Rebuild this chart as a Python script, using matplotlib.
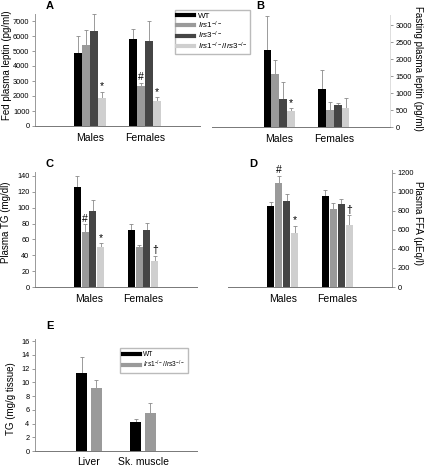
import numpy as np
import matplotlib
matplotlib.use("Agg")
import matplotlib.pyplot as plt
from matplotlib.lines import Line2D

plt.rcParams['font.family'] = ['Liberation Sans', 'DejaVu Sans']
plt.rcParams['mathtext.fontset'] = 'custom'
plt.rcParams['mathtext.rm'] = 'Liberation Sans'
plt.rcParams['mathtext.it'] = 'Liberation Sans:italic'

# data
groups = ['Males', 'Females']
genotypes = ['WT', r'$\mathit{Irs1}^{-/-}$', r'$\mathit{Irs3}^{-/-}$',
             r'$\mathit{Irs1}^{-/-}/\mathit{Irs3}^{-/-}$']

fed_leptin = [[4900, 5800], [5400, 2650], [6350, 5650], [1870, 1650]]
fed_leptin_err = [[1100, 650], [1000, 220], [1150, 1370], [400, 270]]

fast_leptin = [[2260, 1110], [1550, 490], [830, 660], [460, 550]]
fast_leptin_err = [[1000, 560], [430, 260], [490, 60], [100, 290]]

plasma_tg = [[126.5, 71.5], [69, 50.5], [96, 72.5], [50.5, 33]]
plasma_tg_err = [[13.5, 8.5], [10, 3], [14, 8.5], [4.5, 6]]

plasma_ffa = [[850, 960], [1095, 818], [905, 870], [568, 649]]
plasma_ffa_err = [[40, 65], [70, 66], [70, 50], [70, 105]]

tissues = ['Liver', 'Sk. muscle']
tissue_geno = ['WT', r'$\mathit{Irs1}^{-/-}/\mathit{Irs3}^{-/-}$']
tissue_tg = [[11.3, 4.2], [9.2, 5.6]]
tissue_tg_err = [[2.4, 0.5], [1.2, 1.4]]

# significance marks: (series, group, symbol)
marks_a = [(3, 0, '*'), (1, 1, '#'), (3, 1, '*')]
marks_b = [(3, 0, '*')]
marks_c = [(1, 0, '#'), (3, 0, '*'), (3, 1, '\u2020')]
marks_d = [(1, 0, '#'), (3, 0, '*'), (3, 1, '\u2020')]

colors = ['#000000', '#9a9a9a', '#454545', '#cfcfcf']
W, H = 425, 466
fig = plt.figure(figsize=(W / 100, H / 100), dpi=100)


def make_ax(x0, x1, ybase, ytop):
    return fig.add_axes([x0 / W, 1 - ybase / H, (x1 - x0) / W, (ybase - ytop) / H])


def panel(ax, vals, errs, cols, labels, ticks, ylim, right=False,
          width=0.13, step=0.145, marks=(), mark_pad=0.0):
    n = len(vals)
    x = np.arange(len(labels))
    for j in range(n):
        xs = x + (j - (n - 1) / 2) * step
        ax.bar(xs, vals[j], width, color=cols[j], edgecolor='none', zorder=2)
        ax.errorbar(xs, vals[j], yerr=[np.zeros(len(xs)), errs[j]], fmt='none',
                    ecolor='#8a8a8a', elinewidth=0.6, capsize=1.2, capthick=0.6, zorder=1)
    for j, g, s in marks:
        xs = g + (j - (n - 1) / 2) * step
        ax.text(xs, vals[j][g] + errs[j][g] + mark_pad, s, ha='center', va='bottom',
                fontsize=7.5)
    ax.set_xlim(-1, 2)
    ax.set_ylim(*ylim)
    ax.set_yticks(ticks)
    ax.set_xticks(x)
    ax.set_xticklabels(labels, fontsize=7.5)
    ax.tick_params(axis='x', length=0, pad=5)
    ax.tick_params(axis='y', labelsize=5.3, length=2, width=0.6, color='#888', pad=2)
    for s in ['top', 'right', 'left', 'bottom']:
        ax.spines[s].set_visible(False)
    side = 'right' if right else 'left'
    ax.spines[side].set_visible(True)
    ax.spines['bottom'].set_visible(True)
    ax.spines[side].set_color('#999')
    ax.spines['bottom'].set_color('#777')
    ax.spines[side].set_linewidth(0.7)
    ax.spines['bottom'].set_linewidth(0.7)
    if right:
        ax.yaxis.tick_right()
        ax.yaxis.set_label_position('right')


axA = make_ax(35, 200, 126, 13.5)
panel(axA, fed_leptin, fed_leptin_err, colors, groups, range(0, 7001, 1000), (0, 7500),
      marks=marks_a, mark_pad=30)
axA.set_ylabel('Fed plasma leptin (pg/ml)', fontsize=7)
axA.yaxis.set_label_coords(-0.14, 0.54)

axB = make_ax(212, 390, 127, 15)
panel(axB, fast_leptin, fast_leptin_err, colors, groups, range(0, 3001, 500), (0, 3300),
      right=True, marks=marks_b, mark_pad=10)
axB.set_xlim(-1.22, 2.02)
axB.spines['right'].set_color('#ddd')
axB.set_ylabel('Fasting plasma leptin (pg/ml)', fontsize=7, rotation=270, va='center')
axB.yaxis.set_label_coords(1.157, 0.52)

axC = make_ax(35, 197, 287, 172)
panel(axC, plasma_tg, plasma_tg_err, colors, groups, range(0, 141, 20), (0, 145),
      marks=marks_c, mark_pad=1)
axC.set_ylabel('Plasma TG (mg/dl)', fontsize=7)
axC.yaxis.set_label_coords(-0.15, 0.565)

axD = make_ax(228, 392, 287, 170)
panel(axD, plasma_ffa, plasma_ffa_err, colors, groups, range(0, 1201, 200), (0, 1230),
      right=True, marks=marks_d, mark_pad=8)
axD.set_ylabel('Plasma FFA (\u00b5Eq/l)', fontsize=7, rotation=270, va='center')
axD.yaxis.set_label_coords(1.159, 0.55)

axE = make_ax(35, 197, 451, 339)
panel(axE, tissue_tg, tissue_tg_err, [colors[0], colors[1]], tissues, range(0, 17, 2),
      (0, 16.3), width=0.21, step=0.27)
axE.tick_params(axis='x', pad=4)
axE.set_ylabel('TG (mg/g tissue)', fontsize=7)
axE.yaxis.set_label_coords(-0.12, 0.47)

# panel letters
for lx, ly, t in [(50, 6, 'A'), (260, 6, 'B'), (50, 164, 'C'), (253, 164, 'D'), (50, 326, 'E')]:
    fig.text(lx / W, 1 - ly / H, t, fontsize=8, fontweight='bold', ha='center', va='center')

# legends
handles = [Line2D([], [], color=c, lw=3) for c in colors]
fig.legend(handles, genotypes, loc='upper left', bbox_to_anchor=(175 / W, 1 - 10 / H),
           fontsize=5.8, frameon=True, fancybox=False, edgecolor='#aaa',
           handlelength=2.0, handletextpad=0.5, labelspacing=-0.1, borderpad=0.3,
           borderaxespad=0)
handles_e = [Line2D([], [], color=c, lw=3) for c in colors[:2]]
axE.legend(handles_e, tissue_geno, loc='upper left', bbox_to_anchor=(120 / W, 1 - 348 / H),
           bbox_transform=fig.transFigure, fontsize=4.8, frameon=True, fancybox=False,
           edgecolor='#aaa', handlelength=2.5, handletextpad=0.5, labelspacing=0.05,
           borderpad=0.5, borderaxespad=0)

fig.savefig('out.png', dpi=100)
